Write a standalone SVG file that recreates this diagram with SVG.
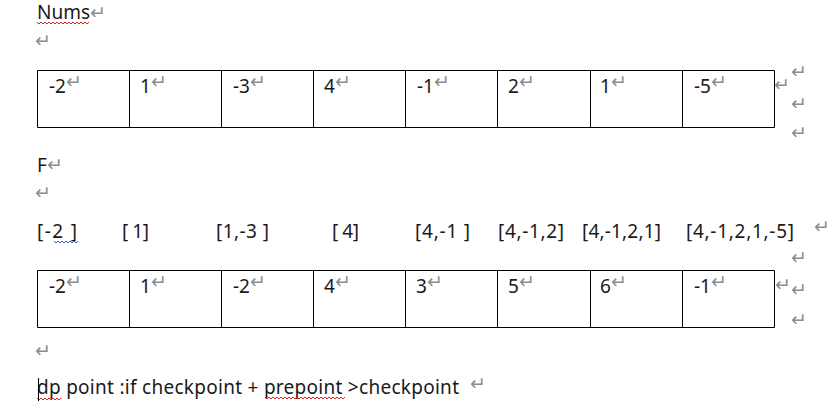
<svg xmlns="http://www.w3.org/2000/svg" width="838" height="415" viewBox="0 0 838 415">
<style>
.t{font-family:"Noto Sans","Liberation Sans",sans-serif;font-size:19px;fill:#1a1a1a}
.pm{font-family:"DejaVu Sans",sans-serif;font-size:19px;fill:#8c8c8c}
.grid{fill:none;stroke:#000;stroke-width:1}
.wr{fill:none;stroke:#e02020;stroke-width:1}
.wb{fill:none;stroke:#2a5bd7;stroke-width:1}
</style>
<rect width="838" height="415" fill="#fff"/>

<g id="nums-label">
<text class="t" x="37" y="19">Nums<tspan class="pm" dx="0">↵</tspan></text>
<path class="wr" d="M37,22 l2,2 l2,-2 l2,2 l2,-2 l2,2 l2,-2 l2,2 l2,-2 l2,2 l2,-2 l2,2 l2,-2 l2,2 l2,-2 l2,2 l2,-2 l2,2 l2,-2 l2,2 l2,-2 l2,2 l2,-2 l2,2 l2,-2 l2,2 l2,-2"/>
<text class="pm" x="35" y="47">↵</text>
</g>

<g id="nums-table">
<path class="grid" d="M37.5,70.5H774.5V127.5H37.5Z M129.5,70.5V127.5 M221.5,70.5V127.5 M313.5,70.5V127.5 M405.5,70.5V127.5 M497.5,70.5V127.5 M590.5,70.5V127.5 M682.5,70.5V127.5"/>
<text class="t" x="49" y="93">-2<tspan class="pm" dy="-5">↵</tspan></text>
<text class="t" x="140" y="93">1<tspan class="pm" dy="-5">↵</tspan></text>
<text class="t" x="233" y="93">-3<tspan class="pm" dy="-5">↵</tspan></text>
<text class="t" x="324" y="93">4<tspan class="pm" dy="-5">↵</tspan></text>
<text class="t" x="417" y="93">-1<tspan class="pm" dy="-5">↵</tspan></text>
<text class="t" x="508" y="93">2<tspan class="pm" dy="-5">↵</tspan></text>
<text class="t" x="600" y="93">1<tspan class="pm" dy="-5">↵</tspan></text>
<text class="t" x="694" y="93">-5<tspan class="pm" dy="-5">↵</tspan></text>
<text class="pm" x="774" y="91">↵</text>
<text class="pm" x="791" y="78">↵</text>
<text class="pm" x="791" y="110">↵</text>
<text class="pm" x="791" y="139">↵</text>
</g>

<g id="f-label">
<text class="t" x="37" y="172">F<tspan class="pm" dy="-1">↵</tspan></text>
<text class="pm" x="35" y="199">↵</text>
</g>

<g id="subarrays">
<text class="t" x="37" y="238" textLength="40" lengthAdjust="spacing">[-2 ]</text>
<path class="wb" d="M54,241 l2,2 l2,-2 l2,2 l2,-2 l2,2 l2,-2 l2,2 l2,-2 l2,2 l2,-2 l2,2 l2,-2"/>
<text class="t" x="122" y="238" textLength="27" lengthAdjust="spacing">[ 1]</text>
<text class="t" x="216" y="238" textLength="53" lengthAdjust="spacing">[1,-3 ]</text>
<text class="t" x="332" y="238" textLength="27" lengthAdjust="spacing">[ 4]</text>
<text class="t" x="415" y="238" textLength="55" lengthAdjust="spacing">[4,-1 ]</text>
<text class="t" x="498" y="238" textLength="66" lengthAdjust="spacing">[4,-1,2]</text>
<text class="t" x="582" y="238" textLength="79" lengthAdjust="spacing">[4,-1,2,1]</text>
<text class="t" x="686" y="238" textLength="108" lengthAdjust="spacing">[4,-1,2,1,-5]</text>
<text class="pm" x="814" y="233">↵</text>
</g>

<g id="f-table">
<path class="grid" d="M37.5,270.5H774.5V327.5H37.5Z M129.5,270.5V327.5 M221.5,270.5V327.5 M313.5,270.5V327.5 M405.5,270.5V327.5 M497.5,270.5V327.5 M590.5,270.5V327.5 M682.5,270.5V327.5"/>
<text class="t" x="49" y="293">-2<tspan class="pm" dy="-5">↵</tspan></text>
<text class="t" x="140" y="293">1<tspan class="pm" dy="-5">↵</tspan></text>
<text class="t" x="233" y="293">-2<tspan class="pm" dy="-5">↵</tspan></text>
<text class="t" x="324" y="293">4<tspan class="pm" dy="-5">↵</tspan></text>
<text class="t" x="416" y="293">3<tspan class="pm" dy="-5">↵</tspan></text>
<text class="t" x="508" y="293">5<tspan class="pm" dy="-5">↵</tspan></text>
<text class="t" x="600" y="293">6<tspan class="pm" dy="-5">↵</tspan></text>
<text class="t" x="694" y="293">-1<tspan class="pm" dy="-5">↵</tspan></text>
<text class="pm" x="775" y="291">↵</text>
<text class="pm" x="791" y="264">↵</text>
<text class="pm" x="791" y="296">↵</text>
<text class="pm" x="791" y="326">↵</text>
</g>

<g id="rule">
<text class="pm" x="35" y="357">↵</text>
<text class="t" x="37" y="394" textLength="422" lengthAdjust="spacing">dp point :if checkpoint + prepoint &gt;checkpoint</text>
<text class="pm" x="470" y="390">↵</text>
<path class="wr" d="M37,398 l2,2 l2,-2 l2,2 l2,-2 l2,2 l2,-2 l2,2 l2,-2 l2,2 l2,-2 l2,2 l2,-2"/>
<path class="wr" d="M265,397 l2,2 l2,-2 l2,2 l2,-2 l2,2 l2,-2 l2,2 l2,-2 l2,2 l2,-2 l2,2 l2,-2 l2,2 l2,-2 l2,2 l2,-2 l2,2 l2,-2 l2,2 l2,-2 l2,2 l2,-2 l2,2 l2,-2 l2,2 l2,-2 l2,2 l2,-2 l2,2 l2,-2 l2,2 l2,-2 l2,2 l2,-2 l2,2 l2,-2 l2,2 l2,-2 l2,2 l2,-2"/>
<line x1="38.5" y1="378" x2="38.5" y2="401" stroke="#000" stroke-width="1"/>
</g>
</svg>
